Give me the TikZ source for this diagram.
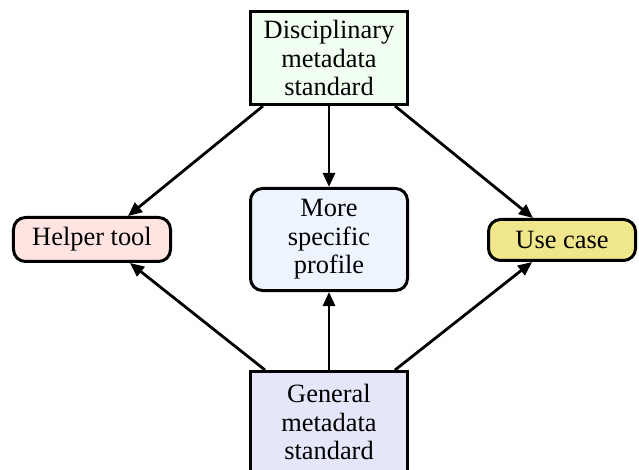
\documentclass[tikz,border=0pt]{standalone}
\usepackage{fontspec}
\setmainfont{Liberation Serif}
\usetikzlibrary{arrows.meta,calc}
\definecolor{cgreen}{HTML}{F0FFF0}
\definecolor{cpink}{HTML}{FFE4E1}
\definecolor{cblue}{HTML}{EEF5FF}
\definecolor{ckhaki}{HTML}{F0E68C}
\definecolor{clav}{HTML}{E6E6FA}
\tikzset{
  box/.style={draw=black, line width=3bp, inner sep=0pt, align=center,
    font=\fontsize{26.5}{28.5}\selectfont},
  rbox/.style={box, rounded corners=12bp},
  edge/.style={line width=2.8bp, -{Triangle[length=14bp,width=12bp]}},
}
\begin{document}
\begin{tikzpicture}[x=1bp,y=-1bp]
\useasboundingbox (0,0) rectangle (639,470);
\clip (0,0) rectangle (639,470);
\node[box, fill=cgreen, minimum width=157bp, minimum height=93bp] (top) at (329,58) {Disciplinary\\metadata\\standard};
\node[rbox, fill=cblue, minimum width=157bp, minimum height=102bp] (mid) at (329,239.5) {More\\specific\\profile};
\node[rbox, fill=cpink, minimum width=157bp, minimum height=44bp] (left) at (92,239.5) {Helper tool};
\node[rbox, fill=ckhaki, minimum width=147bp, minimum height=41bp] (right) at (562,240) {Use case};
\node[box, fill=clav, minimum width=157bp, minimum height=101bp] (bot) at (329,422) {General\\metadata\\standard};
\draw[edge] ($(top.south)+(-66,0)$) -- ($(left.north)+(36,0)$);
\draw[edge] (top.south) -- (mid.north);
\draw[edge] ($(top.south)+(66,0)$) -- ($(right.north)+(-29,0)$);
\draw[edge] ($(bot.north)+(-64,0)$) -- ($(left.south)+(38,0)$);
\draw[edge] (bot.north) -- (mid.south);
\draw[edge] ($(bot.north)+(66,0)$) -- ($(right.south)+(-30,0)$);
\end{tikzpicture}
\end{document}
